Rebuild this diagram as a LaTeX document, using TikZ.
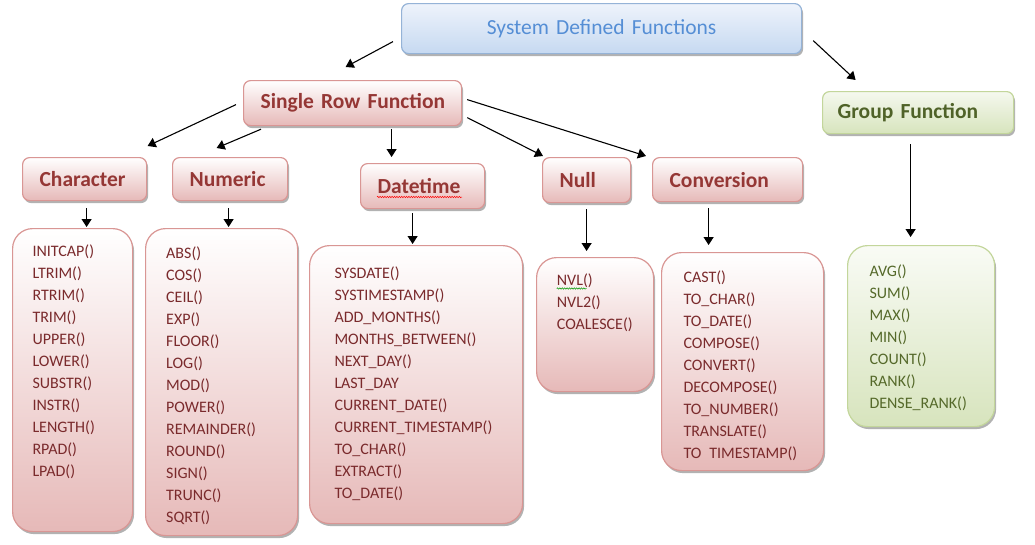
\documentclass[tikz,border=0pt]{standalone}
\usepackage{fontspec}
\setmainfont{Carlito}
\usetikzlibrary{arrows.meta,shadows,calc,decorations.pathmorphing}
\definecolor{rfill}{HTML}{E6B9B8}
\definecolor{rline}{HTML}{D99694}
\definecolor{rtext}{HTML}{953735}
\definecolor{ltext}{HTML}{7A2A2C}
\definecolor{bfill}{HTML}{C6D9F1}
\definecolor{btop}{HTML}{EEF3FB}
\definecolor{bline}{HTML}{95B3D7}
\definecolor{btext}{HTML}{558ED5}
\definecolor{gfill}{HTML}{D7E4BD}
\definecolor{gline}{HTML}{C3D69B}
\definecolor{gtext}{HTML}{4F6228}
\definecolor{gtxt2}{HTML}{55692A}
\tikzset{
  shad/.style={drop shadow={shadow xshift=1.5pt,shadow yshift=-2.5pt,opacity=0.3,fill=black}},
  hdr/.style={shad, rectangle, rounded corners=7pt, line width=1.2pt, inner xsep=17pt, inner ysep=0pt,
    align=left, anchor=north west, font=\fontsize{21.5}{25}\selectfont\bfseries},
  redhdr/.style={hdr, draw=rline, top color=white, bottom color=rfill, text=rtext},
  grnhdr/.style={hdr, draw=gline, top color=gfill!25!white, bottom color=gfill, text=gtext},
  bluhdr/.style={hdr, draw=bline, top color=btop, bottom color=bfill, text=btext, align=center,
    font=\fontsize{21.5}{25}\selectfont},
  lst/.style={shad, rectangle, rounded corners=20pt, line width=1.2pt, inner sep=0pt, anchor=north west},
  redlst/.style={lst, draw=rline, top color=white, bottom color=rfill},
  grnlst/.style={lst, draw=gline, top color=gfill!15!white, bottom color=gfill},
  fitem/.style={anchor=base west, inner sep=0pt, font=\fontsize{16}{19}\selectfont, text=ltext},
  gitem/.style={fitem, text=gtxt2},
  arr/.style={-{Triangle[length=8pt,width=10pt]}, line width=1.1pt, black},
  squig/.style={decorate, decoration={snake, amplitude=0.7pt, segment length=2.4pt}, line width=0.5pt}
}
\begin{document}
\begin{tikzpicture}[x=1pt,y=-1pt]
\useasboundingbox (0,0) rectangle (1035,544);
% header boxes
\node[bluhdr, text width=366pt, minimum height=50pt] (sys) at (401,3) {System Defined Functions};
\node[redhdr, text width=184pt, minimum height=45pt] (srf) at (243,80) {\mbox{Single Row Function}};
\node[grnhdr, inner xsep=15pt, text width=161pt, minimum height=42pt] (grp) at (822,91) {\mbox{Group Function}};
\node[redhdr, text width=90pt, minimum height=43pt] (chr) at (22,157) {Character};
\node[redhdr, text width=81pt, minimum height=43pt] (num) at (172,157) {Numeric};
\node[redhdr, text width=90pt, minimum height=45pt] (dtm) at (360,163) {Datetime};
\node[redhdr, text width=54pt, minimum height=45pt] (nul) at (542,157) {Null};
\node[redhdr, text width=116pt, minimum height=44pt] (cnv) at (652,157) {Conversion};
% list boxes
\node[redlst, minimum width=120pt, minimum height=303pt] (chrL) at (12,228) {};
\node[redlst, minimum width=152pt, minimum height=307pt] (numL) at (145,228) {};
\node[redlst, minimum width=213pt, minimum height=278pt] (dtmL) at (309,245) {};
\node[redlst, minimum width=117pt, minimum height=134pt] (nulL) at (536,257) {};
\node[redlst, minimum width=162pt, minimum height=218pt] (cnvL) at (661,252) {};
\node[grnlst, minimum width=147pt, minimum height=181pt] (grpL) at (847,245) {};
% list items
\foreach \t [count=\i from 0] in {INITCAP(),LTRIM(),RTRIM(),TRIM(),UPPER(),LOWER(),SUBSTR(),INSTR(),LENGTH(),RPAD(),LPAD()}
  \node[fitem] (c\i) at (32.3,{256.5+22*\i}) {\t};
\foreach \t [count=\i from 0] in {ABS(),COS(),CEIL(),EXP(),FLOOR(),LOG(),MOD(),POWER(),REMAINDER(),ROUND(),SIGN(),TRUNC(),SQRT()}
  \node[fitem] (m\i) at (166,{258+22*\i}) {\t};
\foreach \t [count=\i from 0] in {SYSDATE(),SYSTIMESTAMP(),ADD\_MONTHS(),MONTHS\_BETWEEN(),NEXT\_DAY(),LAST\_DAY,CURRENT\_DATE(),CURRENT\_TIMESTAMP(),TO\_CHAR(),EXTRACT(),TO\_DATE()}
  \node[fitem] (d\i) at (334.3,{278.5+22*\i}) {\t};
\foreach \t [count=\i from 0] in {NVL(),NVL2(),COALESCE()}
  \node[fitem] (n\i) at (556.7,{285.5+22*\i}) {\t};
\foreach \t [count=\i from 0] in {CAST(),TO\_CHAR(),TO\_DATE(),COMPOSE(),CONVERT(),DECOMPOSE(),TO\_NUMBER(),TRANSLATE(),TO\phantom{\_}TIMESTAMP()}
  \node[fitem] (v\i) at (683.3,{282+22*\i}) {\t};
\foreach \t [count=\i from 0] in {AVG(),SUM(),MAX(),MIN(),COUNT(),RANK(),DENSE\_RANK()}
  \node[gitem] (g\i) at (869.3,{276+22*\i}) {\t};
% spell-check marks
\draw[squig, red] ($(dtm.north west)+(17,34)$) -- ($(dtm.north west)+(102,34)$);
\draw[squig, green!60!black] ($(n0.base west)+(0,3)$) -- ($(n0.base west)+(30,3)$);
% connectors
\draw[arr] ($(sys.west)+(-8,13)$) -- ($(srf.north)+(-7,-13)$);
\draw[arr] ($(sys.east)+(11,12)$) -- ($(grp.north)+(-62.5,-11)$);
\draw[arr] ($(srf.west)+(-7,1.5)$) -- ($(chr.north)+(63,-11)$);
\draw[arr] ($(srf.south west)+(18,3)$) -- ($(num.north)+(-13.5,-9)$);
\draw[arr] ($(srf.south)+(39,3)$) -- ($(dtm.north)+(-31,-6)$);
\draw[arr] ($(srf.east)+(5,14.5)$) -- ($(nul.north west)+(1,-1)$);
\draw[arr] ($(srf.east)+(5,-3.5)$) -- ($(cnv.north west)+(-6,-1)$);
\draw[arr] ($(chr.south)+(2,7)$) -- ($(chrL.north)+(14,-1)$);
\draw[arr] ($(num.south)+(-1.5,7)$) -- ($(numL.north)+(7,-1)$);
\draw[arr] ($(dtm.south)+(-10,4)$) -- ($(dtmL.north)+(-3.5,-1)$);
\draw[arr] ($(nul.south)+(0,6)$) -- ($(nulL.north)+(-8.5,-6)$);
\draw[arr] ($(cnv.south)+(-19,6)$) -- ($(cnvL.north)+(-34,-7)$);
\draw[arr] ($(grp.south)+(-7.5,10)$) -- ($(grpL.north)+(-10.5,-8)$);
\end{tikzpicture}
\end{document}
